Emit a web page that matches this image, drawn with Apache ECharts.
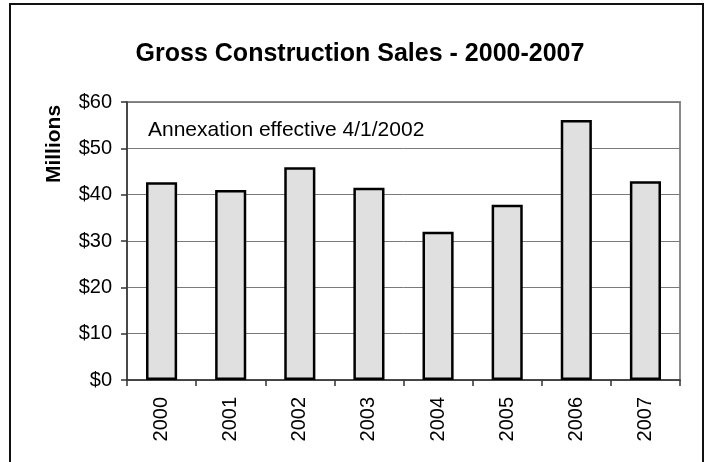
<!DOCTYPE html>
<html>
<head>
<meta charset="utf-8">
<script src="https://cdn.jsdelivr.net/npm/echarts@6/dist/echarts.min.js"></script>
<style>
html,body{margin:0;padding:0;background:#fff;}
#chart{width:707px;height:462px;}
</style>
</head>
<body>
<div id="chart"></div>
<script>
var years = ['2000','2001','2002','2003','2004','2005','2006','2007'];
var sales = [42.7, 41.0, 45.9, 41.5, 32.0, 37.8, 56.1, 42.9];
var yTicks = [0, 10, 20, 30, 40, 50, 60];
var titleText = 'Gross Construction Sales - 2000-2007';
var noteText = 'Annexation effective 4/1/2002';
var yAxisTitle = 'Millions';

var font = 'Liberation Sans, Arial, sans-serif';
var chart = echarts.init(document.getElementById('chart'), null, {renderer:'canvas'});
chart.setOption({
  animation: false,
  backgroundColor: '#fff',
  title: {
    text: titleText,
    left: 355, top: 37, textAlign: 'center',
    textStyle: {fontFamily: font, fontSize: 25, fontWeight: 'bold', color: '#000'}
  },
  grid: {
    left: 127, right: 27, top: 102, bottom: 82,
    show: true, borderColor: '#8a8a8a', borderWidth: 2, backgroundColor: 'transparent'
  },
  xAxis: {
    type: 'category',
    data: years,
    boundaryGap: true,
    axisLine: {show: true, lineStyle: {color: '#333', width: 1.5}},
    axisTick: {show: true, length: 6, alignWithLabel: false, lineStyle: {color: '#333', width: 1.5}},
    axisLabel: {rotate: 90, margin: 17, fontFamily: font, fontSize: 20, color: '#000'},
    splitLine: {show: false}
  },
  yAxis: {
    type: 'value',
    min: yTicks[0], max: yTicks[yTicks.length-1], interval: 10,
    axisLine: {show: true, lineStyle: {color: '#333', width: 1.5}},
    axisTick: {show: true, length: 6, lineStyle: {color: '#333', width: 1.5}},
    axisLabel: {margin: 15, fontFamily: font, fontSize: 20, color: '#000',
      formatter: function(v){ return '$' + v; }},
    splitLine: {show: true, lineStyle: {color: '#7a7a7a', width: 1}}
  },
  series: [{
    type: 'bar',
    data: sales,
    barWidth: '45%',
    itemStyle: {color: '#e0e0e0', borderColor: '#000', borderWidth: 2.5}
  }],
  graphic: [
    {type: 'rect', shape: {x: 10, y: 4, width: 693, height: 470},
     style: {fill: 'none', stroke: '#111', lineWidth: 2}, z: 100},
    {type: 'text', left: 148, top: 120,
     style: {text: noteText, font: '21px ' + font, fill: '#000'}, z: 100},
    {type: 'text', x: 54, y: 144, rotation: Math.PI/2,
     style: {text: yAxisTitle, font: 'bold 21px ' + font, fill: '#000', align: 'center', verticalAlign: 'middle'}, z: 100}
  ]
});
</script>
</body>
</html>
